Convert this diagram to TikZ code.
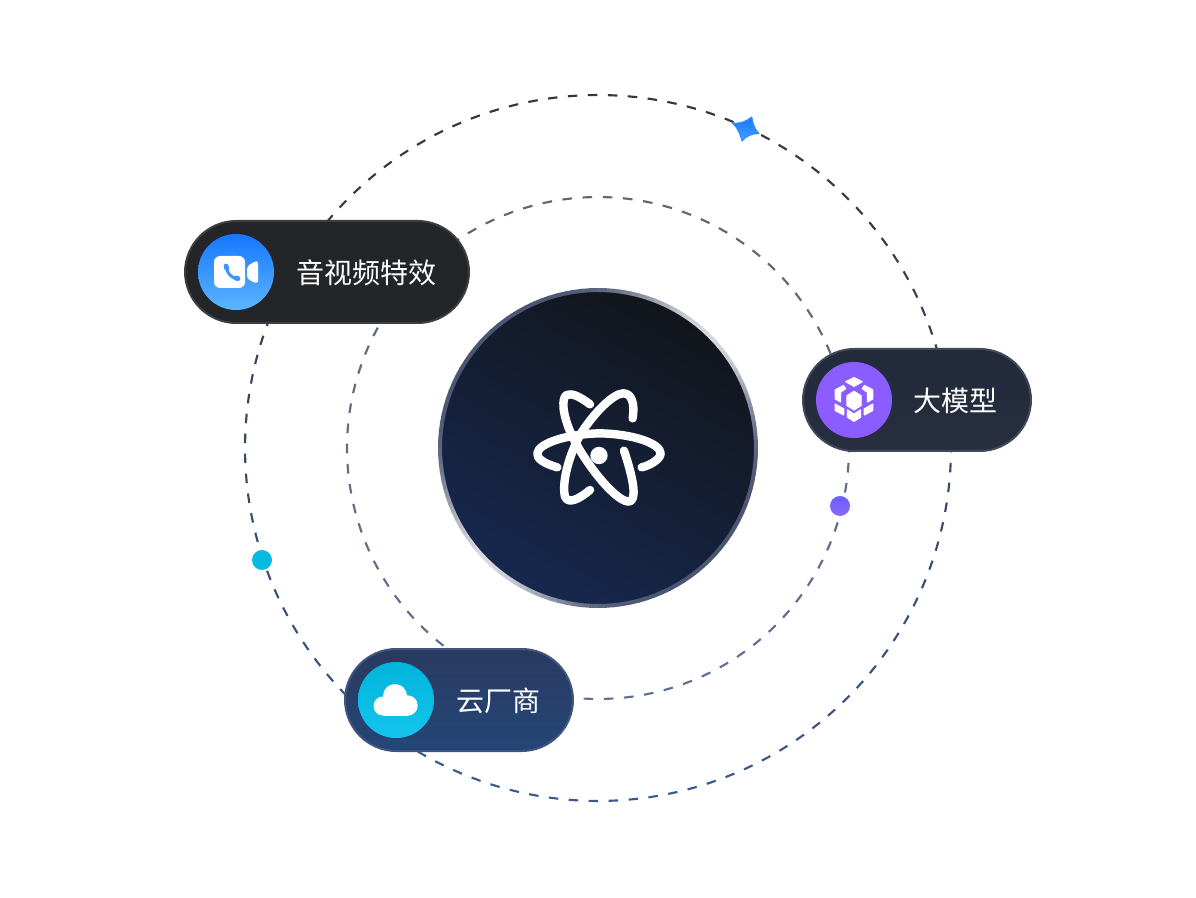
\documentclass[tikz,border=0pt]{standalone}
\usepackage{fontspec}
\newfontfamily\cjk{Noto Sans CJK SC}
\definecolor{outerT}{HTML}{34363E}
\definecolor{outerB}{HTML}{3C5A8C}
\definecolor{innerT}{HTML}{63666F}
\definecolor{innerB}{HTML}{5F7096}
\definecolor{rimL}{HTML}{D6D8E0}
\definecolor{rimD}{HTML}{4C5672}
\definecolor{coreT}{HTML}{12151B}
\definecolor{coreB}{HTML}{17284E}
\definecolor{pillA}{HTML}{242528}
\definecolor{pillAb}{HTML}{3D3E44}
\definecolor{pillBt}{HTML}{232A39}
\definecolor{pillBb}{HTML}{262E40}
\definecolor{pillBe}{HTML}{41485A}
\definecolor{pillCt}{HTML}{2A3A60}
\definecolor{pillCb}{HTML}{244677}
\definecolor{pillCe}{HTML}{40567F}
\definecolor{blueT}{HTML}{1677FF}
\definecolor{blueB}{HTML}{5CB6FF}
\definecolor{phone}{HTML}{3A94FF}
\definecolor{violet}{HTML}{8B5CFF}
\definecolor{cyanT}{HTML}{00B4DC}
\definecolor{cyanB}{HTML}{14C4EC}
\definecolor{dotA}{HTML}{6A5CFF}
\definecolor{dotB}{HTML}{8A6CF6}
\tikzset{
  x=0.75pt,y=-0.75pt,
  pillbox/.style={rounded corners=38.5pt,minimum height=76.5pt,inner sep=0pt,line width=1.5pt,draw=#1},
  iconbox/.style={circle,minimum size=57pt,inner sep=0pt},
  caption/.style={text=white,font=\cjk\fontsize{21pt}{25pt}\selectfont,inner sep=0pt},
  atomline/.style={draw=white,line width=6.3pt,line cap=round,line join=round},
  dotbox/.style={circle,minimum size=15pt,inner sep=0pt},
  iconpart/.style={fill=white,draw=white,line width=1.1pt,line join=round}
}
\begin{document}
\begin{tikzpicture}
\useasboundingbox (0,0) rectangle (1196,898);
\fill[white] (0,0) rectangle (1196,898);
% dashed rings
\begin{scope}[shift={(598,448)}]
\foreach \k in {0,...,110}{
  \pgfmathsetmacro\aa{2.4+\k*(360/111)}
  \pgfmathsetmacro\bb{\aa+1.55}
  \pgfmathsetmacro\mixv{(sin(\aa)+1)*50}
  \draw[draw=outerB!\mixv!outerT,line width=1.6pt] (\aa:353) -- (\bb:353);
}
\foreach \k in {0,...,77}{
  \pgfmathsetmacro\aa{3.4+\k*(360/78)}
  \pgfmathsetmacro\bb{\aa+2.2}
  \pgfmathsetmacro\mixv{(sin(\aa)+1)*50}
  \draw[draw=innerB!\mixv!innerT,line width=1.6pt] (\aa:251) -- (\bb:251);
}
\end{scope}
% core disc
\node[circle,minimum size=237pt,inner sep=0pt,top color=coreT,bottom color=coreB,shading angle=-30] (core) at (598,448) {};
\begin{scope}[shift={(598,448)}]
\foreach \k in {0,...,119}{
  \pgfmathsetmacro\aa{\k*3}
  \pgfmathsetmacro\bb{\aa+3.2}
  \pgfmathsetmacro\mixv{100*pow(abs(cos(\aa+1.5+45)),6)}
  \draw[draw=rimL!\mixv!rimD,line width=3pt] (\aa:158) -- (\bb:158);
}
\end{scope}
% atom
\begin{scope}[shift={(500,360)},x=0.25pt,y=-0.25pt]
\draw[atomline] (172,322) .. controls (130,310) and (110,295) .. (112,280) .. controls (115,250) and (200,222) .. (300,220) .. controls (400,222) and (480,250) .. (482,280) .. controls (482,295) and (455,315) .. (425,322);
\draw[atomline] (270,133) .. controls (240,110) and (215,98) .. (200,105) .. controls (185,112) and (185,160) .. (215,225) .. controls (250,300) and (340,420) .. (385,425) .. controls (410,425) and (405,370) .. (372,272);
\draw[atomline] (398,175) .. controls (405,130) and (395,100) .. (370,100) .. controls (340,100) and (280,160) .. (240,225) .. controls (205,290) and (185,370) .. (195,410) .. controls (205,435) and (240,415) .. (270,390);
\end{scope}
\node[circle,fill=white,minimum size=13pt,inner sep=0pt] (nucleus) at (599,455.5) {};
% pills
\node[pillbox=pillAb,fill=pillA,minimum width=213pt] (pillvideo) at (327,272) {};
\node[pillbox=pillBe,top color=pillBt,bottom color=pillBb,minimum width=171pt] (pillmodel) at (917,400) {};
\node[pillbox=pillCe,top color=pillCt,bottom color=pillCb,minimum width=171pt] (pillcloud) at (459,700) {};
\node[iconbox,top color=blueT,bottom color=blueB] (iconvideo) at (236,272) {};
\node[iconbox,fill=violet] (iconmodel) at (854,400) {};
\node[iconbox,top color=cyanT,bottom color=cyanB] (iconcloud) at (396,700) {};
\node[caption] (textvideo) at (366.5,273) {音视频特效};
\node[caption] (textmodel) at (955.5,401) {大模型};
\node[caption] (textcloud) at (498.5,701) {云厂商};
% video icon
\fill[white,rounded corners=4.5pt] (214,256) rectangle (245,288);
\fill[white,rounded corners=2.5pt] (247,266) -- (258,260) -- (258,284) -- (247,279) -- cycle;
\draw[phone,line width=2.2pt,line cap=round] (226.5,267) .. controls (227,273) and (231,278) .. (237,278.5);
\draw[phone,line width=3.6pt,line cap=round] (226,266) -- (226.8,268.5);
\draw[phone,line width=3.6pt,line cap=round] (235.5,278) -- (238,278.6);
% cube icon
\fill[iconpart] (846,381.7) -- (854,377.8) -- (862,381.7) -- (854,386.2) -- cycle;
\fill[iconpart] (854,391.5) -- (861,395.9) -- (861,405.3) -- (854,409.9) -- (847,405.3) -- (847,395.9) -- cycle;
\fill[iconpart] (835.3,390) -- (843.5,385.7) -- (845.5,388.6) -- (840.5,392) -- (840.5,401.8) -- (835.3,398.8) -- cycle;
\fill[iconpart] (872.7,390) -- (864.5,385.7) -- (862.5,388.6) -- (867.5,392) -- (867.5,401.8) -- (872.7,398.8) -- cycle;
\fill[iconpart] (835.3,404.3) -- (843.6,409) -- (843.6,414.8) -- (835.3,410.3) -- cycle;
\fill[iconpart] (872.7,404.3) -- (864.4,409) -- (864.4,414.8) -- (872.7,410.3) -- cycle;
\fill[iconpart] (847.5,410) -- (854,414.3) -- (860.5,410) -- (860.5,417) -- (854,421.2) -- (847.5,417) -- cycle;
% cloud icon
\fill[white] (383,706) circle (9.5);
\fill[white] (395,696) circle (12);
\fill[white] (407.5,705.5) circle (10.2);
\fill[white] (383,700) rectangle (407.5,715.7);
% orbit dots
\node[dotbox,fill=cyanT!70!cyanB] (dotcyan) at (262,560) {};
\node[dotbox,top color=dotA,bottom color=dotB] (dotviolet) at (840,506) {};
% star
\path[top color=blueT,bottom color=blueB!65!blueT,draw=blueT!65!blueB,line width=0.8pt,line join=round] (751.8,117) .. controls (752.5,123) and (754.5,129) .. (759,133.5) .. controls (752,133.5) and (746,136) .. (742,141) .. controls (740.5,135) and (738,128) .. (732.5,123) .. controls (739.5,124) and (746.5,121.5) .. (751.8,117) -- cycle;
\end{tikzpicture}
\end{document}
